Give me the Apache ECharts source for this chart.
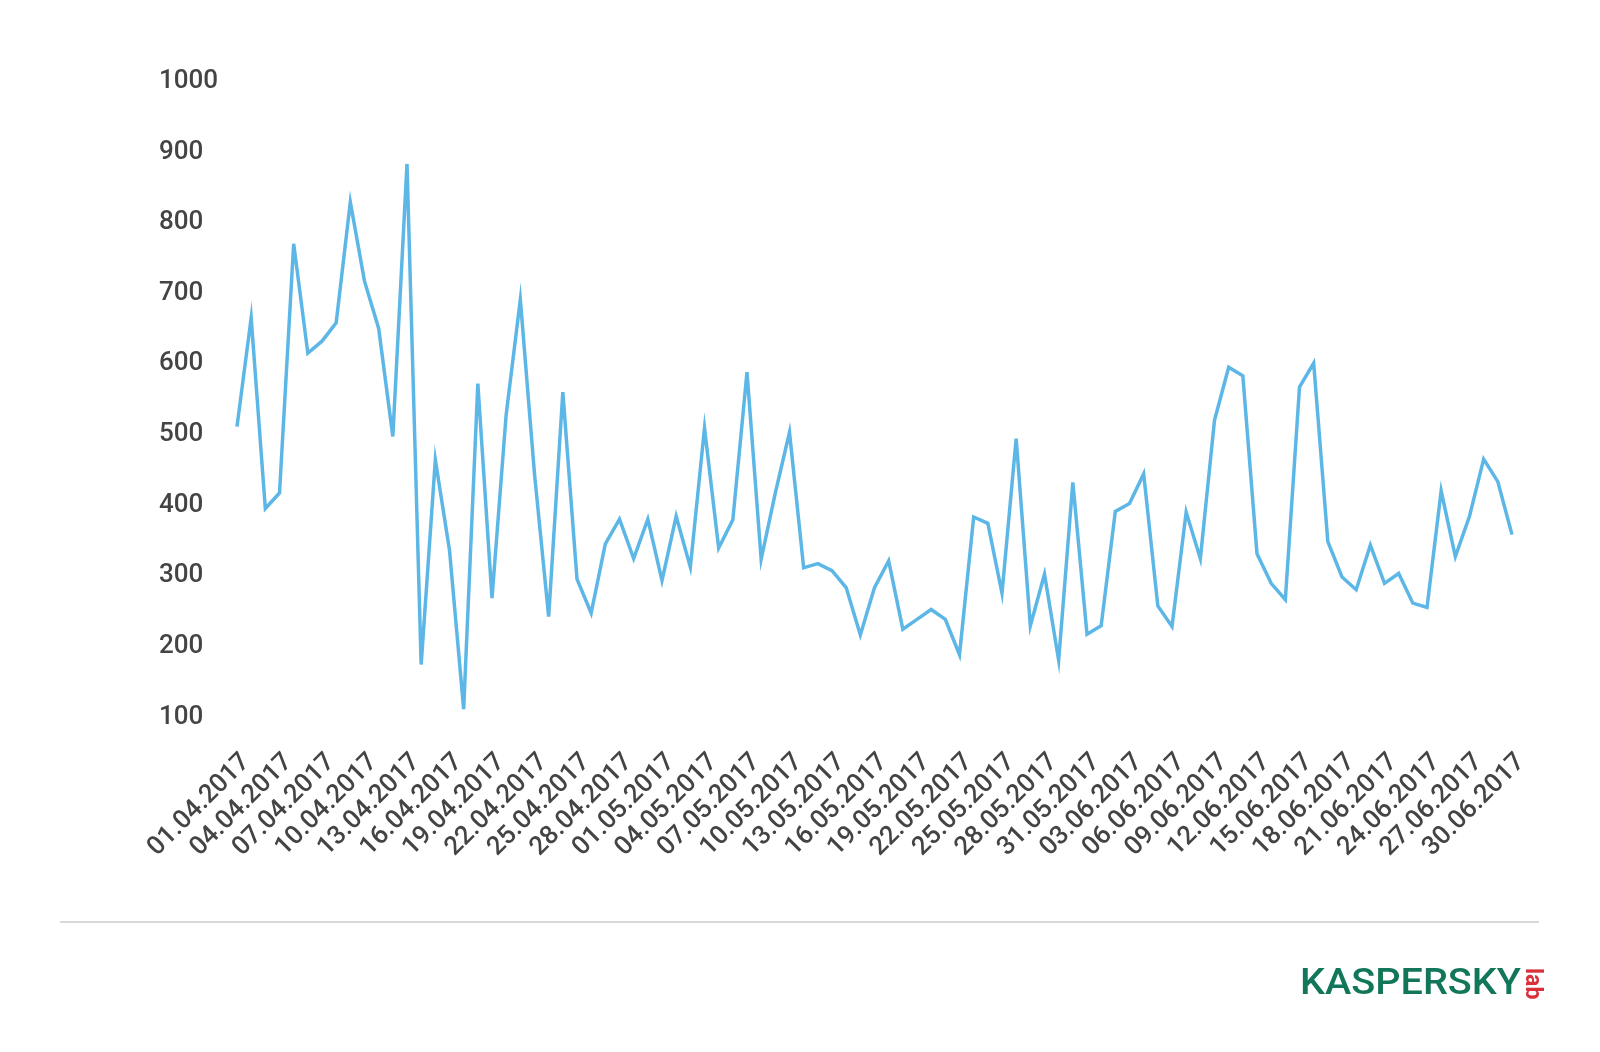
<!DOCTYPE html>
<html>
<head>
<meta charset="utf-8">
<script src="https://cdn.jsdelivr.net/npm/echarts@6/dist/echarts.min.js"></script>
<style>
html,body{margin:0;padding:0;background:#fff;}
#chart{width:1600px;height:1052px;}
</style>
</head>
<body>
<div id="chart"></div>
<script>
var categories = [
"01.04.2017","02.04.2017","03.04.2017","04.04.2017","05.04.2017","06.04.2017","07.04.2017","08.04.2017","09.04.2017","10.04.2017",
"11.04.2017","12.04.2017","13.04.2017","14.04.2017","15.04.2017","16.04.2017","17.04.2017","18.04.2017","19.04.2017","20.04.2017",
"21.04.2017","22.04.2017","23.04.2017","24.04.2017","25.04.2017","26.04.2017","27.04.2017","28.04.2017","29.04.2017","30.04.2017",
"01.05.2017","02.05.2017","03.05.2017","04.05.2017","05.05.2017","06.05.2017","07.05.2017","08.05.2017","09.05.2017","10.05.2017",
"11.05.2017","12.05.2017","13.05.2017","14.05.2017","15.05.2017","16.05.2017","17.05.2017","18.05.2017","19.05.2017","20.05.2017",
"21.05.2017","22.05.2017","23.05.2017","24.05.2017","25.05.2017","26.05.2017","27.05.2017","28.05.2017","29.05.2017","30.05.2017",
"31.05.2017","01.06.2017","02.06.2017","03.06.2017","04.06.2017","05.06.2017","06.06.2017","07.06.2017","08.06.2017","09.06.2017",
"10.06.2017","11.06.2017","12.06.2017","13.06.2017","14.06.2017","15.06.2017","16.06.2017","17.06.2017","18.06.2017","19.06.2017",
"20.06.2017","21.06.2017","22.06.2017","23.06.2017","24.06.2017","25.06.2017","26.06.2017","27.06.2017","28.06.2017","29.06.2017",
"30.06.2017"
];
var values = [
507, 661, 391, 413, 766, 611, 628, 654, 825, 713,
646, 493, 879, 170, 460, 332, 107, 568, 264, 524,
687, 440, 238, 556, 291, 243, 341, 376, 320, 376,
289, 380, 308, 505, 335, 375, 584, 319, 413, 499,
307, 313, 303, 279, 212, 279, 317, 220, 234, 248,
234, 184, 379, 370, 271, 490, 225, 298, 176, 428,
213, 225, 387, 398, 440, 253, 224, 386, 320, 516,
591, 579, 327, 285, 262, 563, 597, 344, 294, 276,
339, 285, 299, 257, 251, 416, 323, 380, 461, 429,
354
];
var yTicks = [100, 200, 300, 400, 500, 600, 700, 800, 900, 1000];
var logoText = "KASPERSKY";
var logoSub = "lab";

var chart = echarts.init(document.getElementById('chart'), null, {renderer: 'canvas'});
chart.setOption({
  animation: false,
  backgroundColor: '#ffffff',
  grid: {left: 237, right: 88, top: 78.5, bottom: 338, containLabel: false},
  xAxis: {
    type: 'category',
    data: categories,
    boundaryGap: false,
    axisLine: {show: false},
    axisTick: {show: false},
    splitLine: {show: false},
    axisLabel: {
      interval: 2,
      rotate: 45,
      margin: 35,
      verticalAlign: 'top',
      fontSize: 26,
      fontWeight: 500,
      fontFamily: 'Roboto',
      color: '#444444'
    }
  },
  yAxis: {
    type: 'value',
    min: yTicks[0],
    max: yTicks[yTicks.length - 1],
    interval: 100,
    axisLine: {show: false},
    axisTick: {show: false},
    splitLine: {show: false},
    axisLabel: {
      align: 'left',
      margin: 78,
      fontSize: 26,
      fontWeight: 500,
      fontFamily: 'Roboto',
      color: '#444444',
      formatter: function (v) { return '{t|' + v + '}'; },
      rich: {
        t: {fontSize: 26, fontWeight: 500, fontFamily: 'Roboto', color: '#444444', padding: [6, 0, 0, 0]}
      }
    }
  },
  series: [{
    type: 'line',
    data: values,
    symbol: 'none',
    lineStyle: {color: '#5db7e6', width: 3.5, join: 'miter'},
    itemStyle: {color: '#5db7e6'}
  }],
  graphic: [
    {type: 'line', shape: {x1: 60, y1: 922, x2: 1539, y2: 922}, style: {stroke: '#d9d9d9', lineWidth: 2}},
    {type: 'text', x: 1300, y: 967, scaleX: 1.1, style: {text: logoText, fontSize: 36, fontWeight: 500, fontFamily: 'Roboto', fill: '#12775a', verticalAlign: 'top'}},
    {type: 'text', x: 1520, y: 968, rotation: -Math.PI / 2, style: {text: logoSub, fontSize: 23, fontWeight: 'bold', fontFamily: 'Roboto', fill: '#d9303b', verticalAlign: 'bottom'}}
  ]
});
</script>
</body>
</html>
